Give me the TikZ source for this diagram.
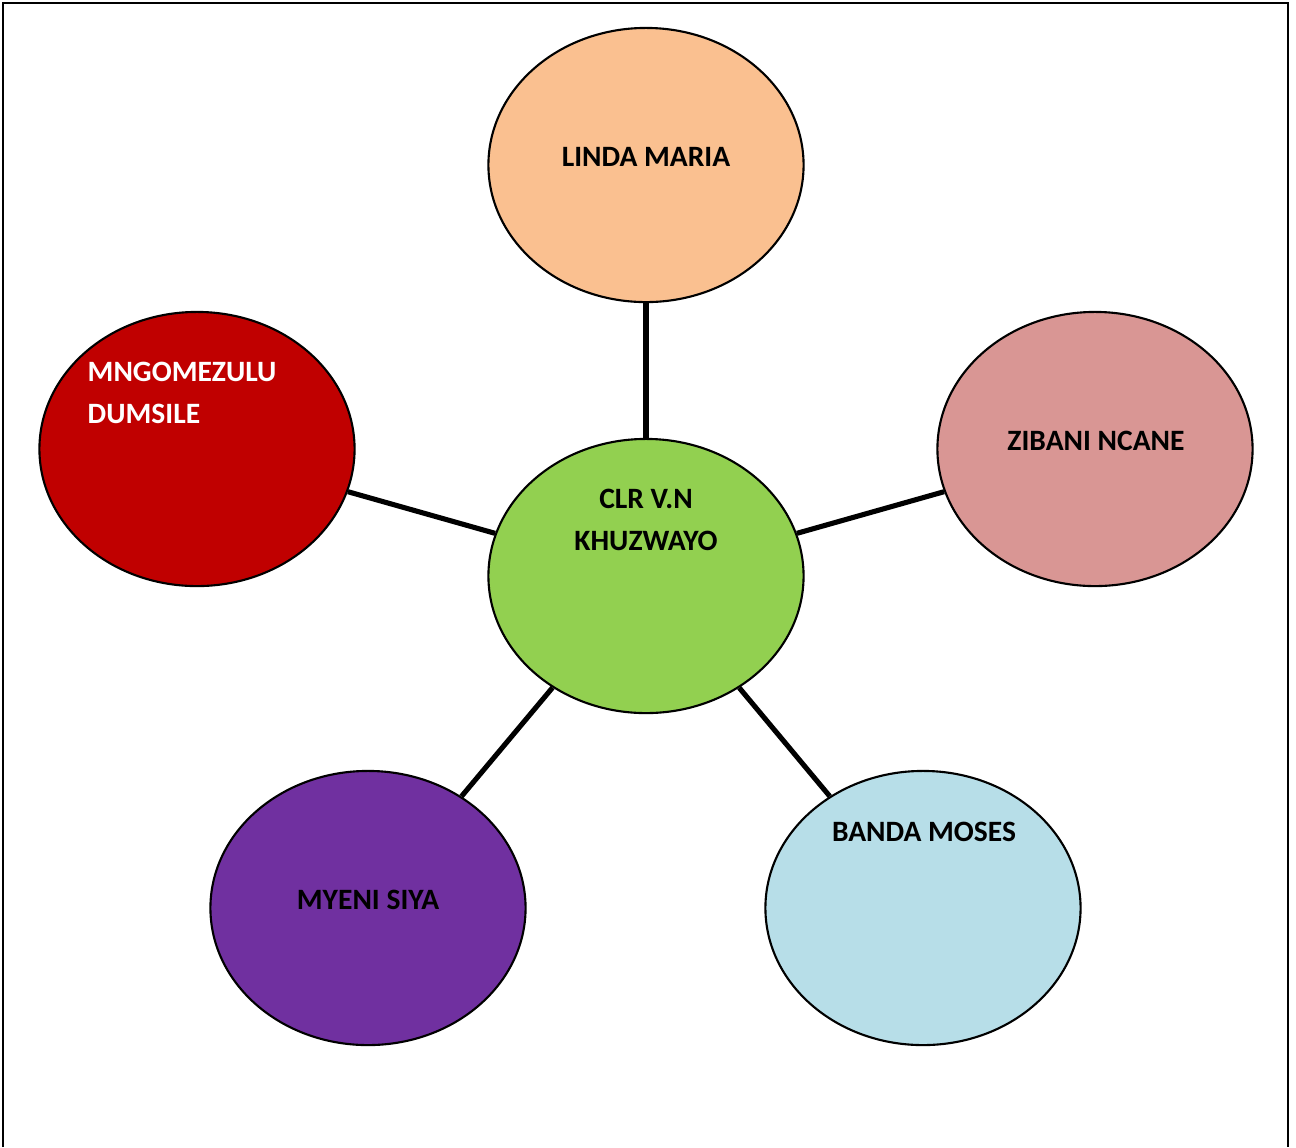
\documentclass[tikz,border=0pt]{standalone}
\usepackage{fontspec}
\setmainfont{Carlito}
\usetikzlibrary{shapes.geometric,positioning}

\definecolor{peach}{HTML}{FAC090}
\definecolor{leafgreen}{HTML}{92D050}
\definecolor{darkred}{HTML}{C00000}
\definecolor{dustypink}{HTML}{D99694}
\definecolor{royalpurple}{HTML}{7030A0}
\definecolor{paleaqua}{HTML}{B7DEE8}

\begin{document}
\begin{tikzpicture}[x=0.01cm,y=-0.01cm,
				member/.style={draw, ellipse, line width=0.6pt, minimum width=3.15cm, minimum height=2.74cm, inner sep=0pt},
				nametext/.style={font=\fontsize{8.4}{12}\selectfont\bfseries, align=center, inner sep=0pt},
				link/.style={line width=1.45pt}
				]
				\useasboundingbox (0,0) rectangle (1296,1147);
				\draw[line width=0.7pt] (3,1147) -- (3,3) -- (1288,3) -- (1288,1147);
				
				\node[member, fill=leafgreen] (clr) at (646,576) {};
				\node[member, fill=peach] (linda) at (646,165) {};
				\node[member, fill=darkred] (mngomezulu) at (197,449) {};
				\node[member, fill=dustypink] (zibani) at (1095,449) {};
				\node[member, fill=royalpurple] (myeni) at (368,908) {};
				\node[member, fill=paleaqua] (banda) at (923,908) {};
				
				\node[nametext] (clrtext) at (646,520) {CLR V.N\\KHUZWAYO};
				\node[nametext] (lindatext) at (646,157) {LINDA MARIA};
				\node[nametext, text=white, align=left, anchor=west] (mngomezulutext) at (87,393) {MNGOMEZULU\\DUMSILE};
				\node[nametext] (zibanitext) at (1096,441) {ZIBANI NCANE};
				\node[nametext] (myenitext) at (368,900) {MYENI SIYA};
				\node[nametext] (bandatext) at (924,832) {BANDA MOSES};
				
				\draw[link] (clr) -- (linda);
				\draw[link] (clr) -- (mngomezulu);
				\draw[link] (clr) -- (zibani);
				\draw[link] (clr) -- (myeni);
				\draw[link] (clr) -- (banda);
			\end{tikzpicture}
\end{document}
